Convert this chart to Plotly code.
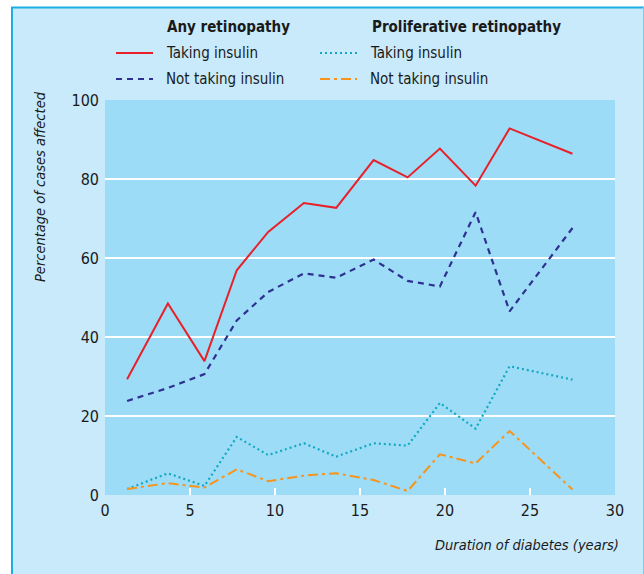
import plotly.graph_objects as go

# Duration of diabetes (years) - bin midpoints
duration = [1.3, 3.7, 5.85, 7.75, 9.6, 11.7, 13.6, 15.8, 17.8, 19.7, 21.8, 23.8, 27.5]

any_taking = [29.3, 48.5, 33.9, 56.9, 66.6, 73.9, 72.7, 84.8, 80.4, 87.7, 78.3, 92.8, 86.4]
any_not_taking = [23.8, 27.1, 30.6, 44.2, 51.4, 56.1, 55.0, 59.6, 54.2, 52.8, 71.6, 46.5, 67.6]
prolif_taking = [1.5, 5.5, 2.3, 14.7, 10.1, 13.1, 9.7, 13.1, 12.5, 23.3, 16.8, 32.6, 29.2]
prolif_not_taking = [1.5, 3.0, 1.9, 6.5, 3.5, 4.9, 5.5, 3.8, 1.0, 10.3, 8.0, 16.2, 1.4]

x_ticks = [0, 5, 10, 15, 20, 25, 30]
y_ticks = [0, 20, 40, 60, 80, 100]

FONT = "DejaVu Sans Condensed, Liberation Sans Narrow, sans-serif"
RED = "#E8202A"
NAVY = "#2E3192"
CYAN = "#12A8C2"
ORANGE = "#F7941D"
PAPER = "#C8EAFA"
PLOT = "#9DDCF6"
BORDER = "#1BAEE6"
TXT = "#1a1a1a"

W, H = 644, 574
L, R, T, B = 105, 29, 100, 79
PW, PH = W - L - R, H - T - B


def px(xp):
    return (xp - L) / PW


def py(yp):
    return (H - B - yp) / PH


fig = go.Figure()
series = [
    (any_taking, RED, "solid", 2),
    (any_not_taking, NAVY, "6px,5px", 2.2),
    (prolif_taking, CYAN, "2px,3px", 2.2),
    (prolif_not_taking, ORANGE, "10px,4px,3px,4px", 2),
]
for ys, col, dash, w in series:
    fig.add_trace(go.Scatter(x=duration, y=ys, mode="lines",
                             line=dict(color=col, dash=dash, width=w),
                             showlegend=False, hoverinfo="skip"))

shapes = []
annotations = []

# outer frame: white strips left/top and border lines
shapes.append(dict(type="rect", xref="paper", yref="paper",
                   x0=px(0), x1=px(11), y0=py(H), y1=py(0),
                   fillcolor="white", line=dict(width=0), layer="below"))
shapes.append(dict(type="rect", xref="paper", yref="paper",
                   x0=px(0), x1=px(W), y0=py(7), y1=py(0),
                   fillcolor="white", line=dict(width=0), layer="below"))
shapes.append(dict(type="line", xref="paper", yref="paper",
                   x0=px(12), x1=px(12), y0=py(7), y1=py(H),
                   line=dict(color=BORDER, width=2)))
shapes.append(dict(type="line", xref="paper", yref="paper",
                   x0=px(11), x1=px(W), y0=py(7.5), y1=py(7.5),
                   line=dict(color=BORDER, width=2)))
shapes.append(dict(type="line", xref="paper", yref="paper",
                   x0=px(643.5), x1=px(643.5), y0=py(7), y1=py(H),
                   line=dict(color="#7FCBEB", width=1)))

# manual legend
headers = [("Any retinopathy", 165), ("Proliferative retinopathy", 370)]
for text, xp in headers:
    annotations.append(dict(text="<b>" + text + "</b>", xref="paper", yref="paper",
                            x=px(xp), y=py(27), xanchor="left", yanchor="middle",
                            showarrow=False, font=dict(family=FONT, size=15, color=TXT)))
entries = [
    ("Taking insulin", RED, "solid", 116, 153, 53),
    ("Not taking insulin", NAVY, "6px,5px", 116, 153, 79),
    ("Taking insulin", CYAN, "2px,3px", 320, 357, 53),
    ("Not taking insulin", ORANGE, "10px,4px,3px,4px", 320, 357, 79),
]
for text, col, dash, x0, x1, yp in entries:
    shapes.append(dict(type="line", xref="paper", yref="paper",
                       x0=px(x0), x1=px(x1), y0=py(yp), y1=py(yp),
                       line=dict(color=col, dash=dash, width=2)))
    annotations.append(dict(text=text, xref="paper", yref="paper",
                            x=px(x1 + 11), y=py(yp), xanchor="left", yanchor="middle",
                            showarrow=False, font=dict(family=FONT, size=15, color=TXT)))

# axis titles
annotations.append(dict(text="<i>Percentage of cases affected</i>", xref="paper", yref="paper",
                        x=px(40), y=py(187), textangle=-90, xanchor="center", yanchor="middle",
                        showarrow=False, font=dict(family=FONT, size=14.5, color=TXT)))
annotations.append(dict(text="<i>Duration of diabetes (years)</i>", xref="paper", yref="paper",
                        x=px(621), y=py(545), xanchor="right", yanchor="middle",
                        showarrow=False, font=dict(family=FONT, size=14.5, color=TXT)))

fig.update_layout(
    width=W, height=H,
    margin=dict(l=L, r=R, t=T, b=B, pad=0),
    paper_bgcolor=PAPER,
    plot_bgcolor=PLOT,
    font=dict(family=FONT, size=16, color=TXT),
    shapes=shapes,
    annotations=annotations,
    xaxis=dict(range=[0, 30], tickvals=x_ticks, ticktext=[str(v) for v in x_ticks],
               showgrid=False, zeroline=False, showline=False,
               ticks="inside", ticklen=7, tickwidth=2, tickcolor="white",
               ticklabelstandoff=4,
               tickfont=dict(family=FONT, size=16)),
    yaxis=dict(range=[0, 100], tickvals=y_ticks, ticktext=[str(v) for v in y_ticks],
               showgrid=True, gridcolor="white", gridwidth=2.5, zeroline=False,
               showline=False, ticks="", ticklabelstandoff=5,
               tickfont=dict(family=FONT, size=16)),
)

fig.write_html("out.html", config={"displayModeBar": False, "staticPlot": True},
               post_script="document.body.style.margin='0';document.body.style.padding='0';")
